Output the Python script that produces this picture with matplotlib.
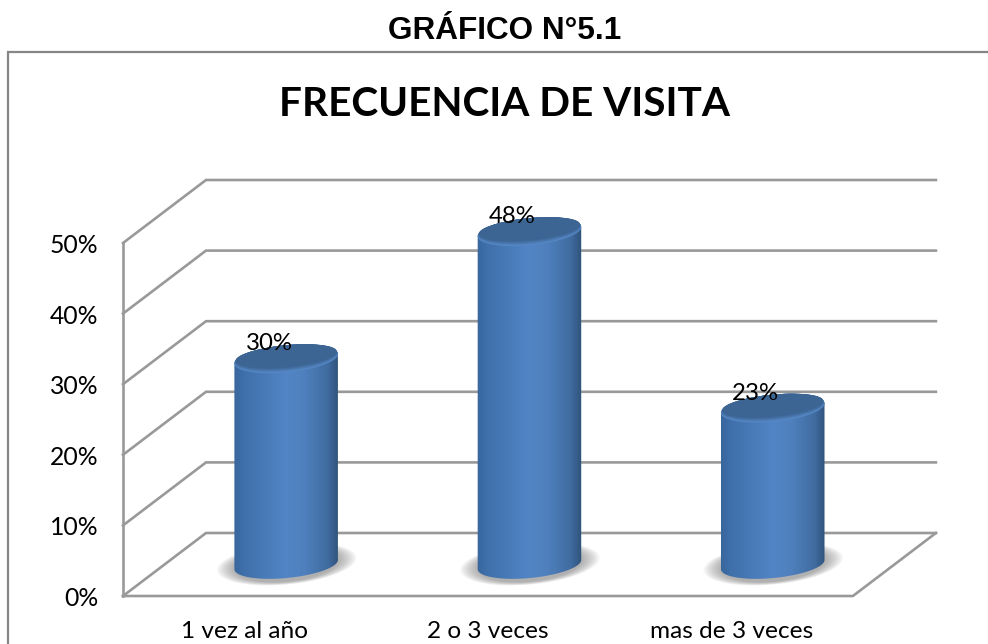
import numpy as np
import matplotlib
matplotlib.use("Agg")
import matplotlib.pyplot as plt
from matplotlib.colors import LinearSegmentedColormap, to_rgb
from matplotlib.patches import Polygon

# data
categories = ["1 vez al año", "2 o 3 veces", "mas de 3 veces"]
values = [30, 48, 23]
ticks = [0, 10, 20, 30, 40, 50]

W, H = 988, 644
# scale of the chart: pixels per category and per percent
px_x = 243.3
px_y = 7.06
x0_px, y0_px = 123, 596
depth_x = 83 / px_x
depth_y = 63 / px_y

fig = plt.figure(figsize=(W / 100, H / 100), dpi=100)
ax = fig.add_axes([0, 0, 1, 1])
# category i sits at x=i, floor front edge runs from -0.5 to 2.5
ax.set_xlim(-0.5 - x0_px / px_x, -0.5 + (W - x0_px) / px_x)
ax.set_ylim(-(H - y0_px) / px_y, y0_px / px_y)
ax.axis("off")

grid = "#999999"
lw = 1.9
x_left, x_right = -0.5, 2.5
top = ticks[-1]

# walls and floor
for t in ticks:
    ax.plot([x_left, x_left + depth_x, x_right + depth_x], [t, t + depth_y, t + depth_y],
            color=grid, lw=lw, zorder=1, solid_joinstyle="miter")
ax.plot([x_left, x_left], [0, top], color=grid, lw=lw, zorder=1)
ax.plot([x_left, x_right, x_right + depth_x], [0, 0, depth_y], color=grid, lw=lw, zorder=1,
        solid_joinstyle="miter")


def ellipse(cx, cy, a_px, b_px, start=0.0, end=2 * np.pi, tilt=np.radians(5.5)):
    t = np.linspace(start, end, 120)
    xp = a_px * np.cos(t) * np.cos(tilt) - b_px * np.sin(t) * np.sin(tilt)
    yp = a_px * np.cos(t) * np.sin(tilt) + b_px * np.sin(t) * np.cos(tilt)
    return np.column_stack([cx + xp / px_x, cy + yp / px_y])


body_cmap = LinearSegmentedColormap.from_list("body", [
    (0.0, "#38659b"), (0.1, "#3f70aa"), (0.5, "#5285c6"), (0.68, "#4f80bd"),
    (0.9, "#3f6b9f"), (1.0, "#2f5279")])

a_px, b_px = 52, 13.5
base_lift = depth_y / 2
top_lift = 3.6
grad = np.linspace(0, 1, 256).reshape(1, -1)
rim_col = np.array(to_rgb("#5688c6"))
cap_col = np.array(to_rgb("#3c6594"))

for i, v in enumerate(values):
    cx = i + depth_x / 2
    y_bot = base_lift
    y_top = v + top_lift

    # soft shadow under the foot
    for k in range(14):
        f = k / 13
        pts = ellipse(cx + 0.5 / px_x, y_bot + 0.5 / px_y, a_px + 18 * (1 - f), b_px + 4 + 3 * (1 - f))
        ax.add_patch(Polygon(pts, closed=True, fc="#707070", ec="none", alpha=0.05, zorder=2))

    # body = lower half of foot + upper part joined through the top ellipse ends
    lower = ellipse(cx, y_bot, a_px, b_px, np.pi, 2 * np.pi)
    upper = ellipse(cx, y_top, a_px, b_px, 0, np.pi)
    body = Polygon(np.vstack([lower, upper]), closed=True, fc="none", ec="none", zorder=3)
    ax.add_patch(body)
    ext = [cx - (a_px + 1) / px_x, cx + (a_px + 1) / px_x, y_bot - 20 / px_y, y_top + 20 / px_y]
    im = ax.imshow(grad, cmap=body_cmap, extent=ext, aspect="auto", zorder=3)
    im.set_clip_path(body)

    # cap: nested ellipses, the light rim stays on the lower edge only
    for k in range(7):
        f = k / 6
        col = rim_col + (cap_col - rim_col) * min(1, f * 1.3)
        pts = ellipse(cx, y_top + 3.0 * f / px_y, a_px - 1.5 * f, b_px - 3.0 * f)
        ax.add_patch(Polygon(pts, closed=True, fc=col, ec="none", zorder=4 + k * 0.01))

    # value label
    ax.text(i + 0.10, y_top + 15 / px_y, f"{v}%", fontsize=17.3, family="Lato", color="black",
            ha="center", va="center", zorder=6)

ax.set_xlim(-0.5 - x0_px / px_x, -0.5 + (W - x0_px) / px_x)
ax.set_ylim(-(H - y0_px) / px_y, y0_px / px_y)

# tick and category labels
for t in ticks:
    ax.text(x_left - 24.5 / px_x, t - 2.5 / px_y, f"{t}%", fontsize=17.8, family="Lato", color="black",
            ha="right", va="center")
for i, c in enumerate(categories):
    ax.text(i + 0.0, -36 / px_y, c, fontsize=17.6, family="Lato", color="black",
            ha="center", va="center")

# chart frame and headings in figure pixels
frame_x = [8 / W, 8 / W, 1]
frame_y = [0, 1 - 52 / H, 1 - 52 / H]
fig.add_artist(plt.Line2D(frame_x, frame_y, color="#868686", lw=1.6, solid_joinstyle="miter"))
fig.text(504.5 / W, 1 - 31 / H, "GRÁFICO N°5.1", fontsize=22.7, fontweight="bold",
         family="Liberation Sans", ha="center", va="center", color="black")
fig.text(504.5 / W, 1 - 105 / H, "FRECUENCIA DE VISITA", fontsize=29.2, fontweight="bold",
         family="Lato", ha="center", va="center", color="black")

fig.savefig("out.png", dpi=100, facecolor="white")
